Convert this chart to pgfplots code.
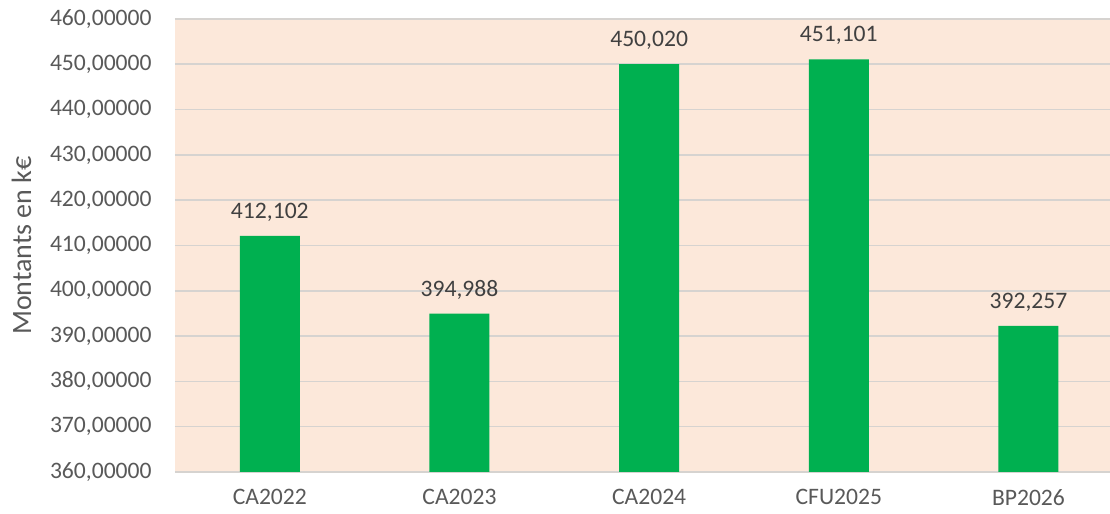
\documentclass[border=0pt]{standalone}
\usepackage{pgfplots}
\pgfplotsset{compat=1.18}
\usepackage{fontspec}
\setmainfont{Carlito}
\definecolor{bargreen}{HTML}{00B050}
\definecolor{peach}{HTML}{FCE8DA}
\definecolor{gridgray}{HTML}{D6D3D0}
\definecolor{ticktext}{HTML}{595959}
\definecolor{labeltext}{HTML}{404040}
\begin{document}
\begin{tikzpicture}
  \useasboundingbox (-87.5bp,-21bp) rectangle (467.5bp,236bp);
  \begin{axis}[
    at={(0,0)}, anchor=south west,
    scale only axis,
    width=467.5bp,
    height=226.5bp,
    ybar,
    bar width=30bp,
    xmin=-0.5, xmax=4.43,
    ymin=360, ymax=460,
    ytick={360,370,...,460},
    yticklabels={{360,00000},{370,00000},{380,00000},{390,00000},{400,00000},
      {410,00000},{420,00000},{430,00000},{440,00000},{450,00000},{460,00000}},
    xtick={0,1,2,3,4},
    xticklabels={CA2022,CA2023,CA2024,CFU2025,BP2026},
    enlargelimits=false,
    major tick length=0pt,
    axis line style={draw=none},
    axis background/.style={fill=peach},
    ymajorgrids=true,
    grid style={line width=0.8bp, draw=gridgray},
    /pgf/number format/assume math mode=true,
    yticklabel style={
      font=\fontsize{11.8bp}{14bp}\selectfont, text=ticktext,
      inner sep=0pt, xshift=-11.5bp},
    xticklabel style={
      font=\fontsize{11.8bp}{14bp}\selectfont, text=ticktext,
      inner sep=0pt, yshift=-8.5bp},
    ylabel={Montants en k€},
    ylabel style={at={(axis description cs:-0.1642,0.5)}, anchor=center,
      font=\fontsize{14bp}{16bp}\selectfont, text=ticktext},
    nodes near coords,
    nodes near coords style={
      font=\fontsize{11.8bp}{14bp}\selectfont, text=labeltext,
      anchor=south, inner sep=0pt, yshift=7bp,
      /pgf/number format/.cd, fixed, fixed zerofill, precision=3, use comma, 1000 sep={}},
  ]
    \addplot[draw=none, fill=bargreen] coordinates {
      (0,412.102) (1,394.988) (2,450.020) (3,451.101) (4,392.257)};
  \end{axis}
\end{tikzpicture}
\end{document}
